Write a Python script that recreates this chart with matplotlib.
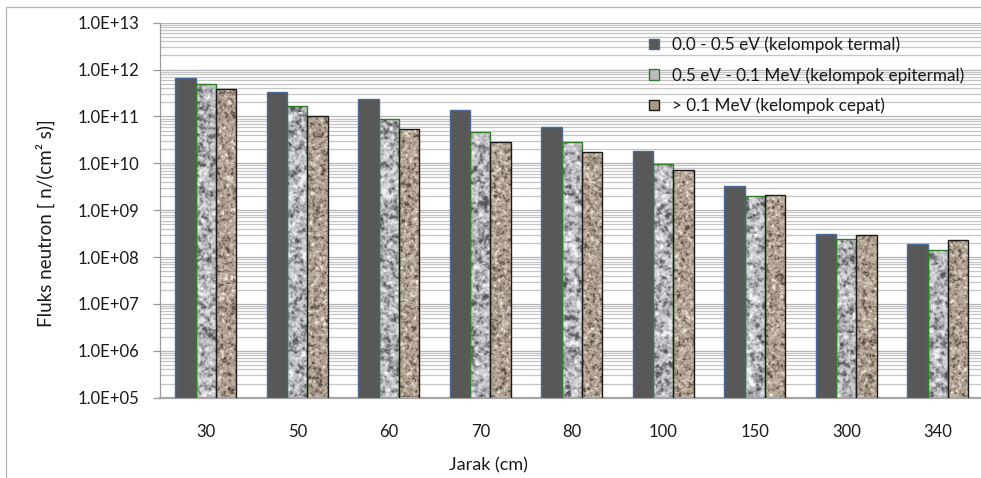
import numpy as np
import matplotlib
matplotlib.use("Agg")
import matplotlib.pyplot as plt
from matplotlib.patches import Rectangle, Patch
from matplotlib.colors import LinearSegmentedColormap
from matplotlib.ticker import LogLocator, FixedLocator, NullFormatter

plt.rcParams['font.family'] = ['Lato', 'DejaVu Sans']

# Distance from source (cm)
jarak = ["30", "50", "60", "70", "80", "100", "150", "300", "340"]

# Neutron flux per energy group [n/(cm^2 s)]
termal = [6.5e11, 3.3e11, 2.36e11, 1.38e11, 5.9e10, 1.81e10, 3.35e9, 3.08e8, 1.88e8]
epitermal = [4.9e11, 1.67e11, 9.0e10, 4.6e10, 2.9e10, 9.7e9, 2.0e9, 2.48e8, 1.40e8]
cepat = [3.9e11, 1.04e11, 5.5e10, 2.8e10, 1.73e10, 7.3e9, 2.09e9, 3.02e8, 2.29e8]

labels = ["0.0 - 0.5 eV (kelompok termal)",
          "0.5 eV - 0.1 MeV (kelompok epitermal)",
          "> 0.1 MeV (kelompok cepat)"]

ytick_vals = [1e5, 1e6, 1e7, 1e8, 1e9, 1e10, 1e11, 1e12, 1e13]
ytick_labels = ["1.0E+05", "1.0E+06", "1.0E+07", "1.0E+08", "1.0E+09",
                "1.0E+10", "1.0E+11", "1.0E+12", "1.0E+13"]

W, H = 981, 478
fig = plt.figure(figsize=(W / 100, H / 100), dpi=100)

# chart-area border
fig.add_artist(Rectangle((6 / W, -0.05), 1.2, 1 - 7 / H + 0.05,
                         transform=fig.transFigure, fill=False,
                         edgecolor='#b4b4b4', linewidth=0.9))

ax_l, ax_r = 160 / W, 983.5 / W
ax_b, ax_t = 1 - 397.7 / H, 1 - 22.7 / H
ax = fig.add_axes([ax_l, ax_b, ax_r - ax_l, ax_t - ax_b])

x = np.arange(len(jarak))
bw = 0.224
ax.set_yscale('log')
ax.set_ylim(1e5, 1e13)
ax.set_xlim(-0.5, len(jarak) - 0.5)

c_dark = '#585858'
b1 = ax.bar(x - bw, termal, bw, color=c_dark, edgecolor='#4b6a98',
            linewidth=1.0, zorder=3)
b2 = ax.bar(x, epitermal, bw, color='#c4c4c8', edgecolor='none',
            linewidth=0, zorder=2)
b3 = ax.bar(x + bw, cepat, bw, color='#b3a393', edgecolor='none',
            linewidth=0, zorder=2)


def smooth(a, s):
    ky = np.fft.fftfreq(a.shape[0])[:, None]
    kx = np.fft.fftfreq(a.shape[1])[None, :]
    g = np.exp(-2 * (np.pi * s) ** 2 * (ky ** 2 + kx ** 2))
    return np.real(np.fft.ifft2(np.fft.fft2(a) * g))


def texture(seed, cmap, shape, s1, s2, w2):
    rng = np.random.default_rng(seed)
    f = smooth(rng.standard_normal(shape), s1) + w2 * smooth(rng.standard_normal(shape), s2)
    lo, hi = np.percentile(f, [1, 99])
    f = np.clip((f - lo) / (hi - lo), 0, 1)
    return cmap(f)


# stone-like fills for the epithermal and fast groups
granite = LinearSegmentedColormap.from_list(
    'granite', ['#56565a', '#7c7c80', '#a8a8ac', '#c6c6ca', '#dadade', '#f4f4f6'])
sand = LinearSegmentedColormap.from_list(
    'sand', ['#5a4c40', '#84756a', '#a69686', '#b8a999', '#c9bcae', '#ece4da'])

shape = (380, 830)
tex_epi = texture(3, granite, shape, 1.7, 0.8, 0.4)
tex_cep = texture(7, sand, shape, 1.2, 0.6, 0.5)

for bars, tex, ec in ((b2, tex_epi, '#2f7d2a'), (b3, tex_cep, '#1c1a18')):
    for rect in bars:
        im = ax.imshow(tex, extent=(0, 1, 0, 1), transform=ax.transAxes,
                       aspect='auto', interpolation='nearest', zorder=2.5)
        im.set_clip_path(rect)
    ax.bar([r.get_x() + r.get_width() / 2 for r in bars], bars.datavalues, bw,
           color='none', edgecolor=ec, linewidth=1.0, zorder=3)

# grid
ax.yaxis.set_major_locator(FixedLocator(ytick_vals))
ax.set_yticklabels(ytick_labels)
ax.yaxis.set_minor_locator(LogLocator(base=10, subs=np.arange(2, 10), numticks=20))
ax.yaxis.set_minor_formatter(NullFormatter())
ax.grid(True, which='major', axis='y', color='#b4b4b4', linewidth=0.9, zorder=0)
ax.grid(True, which='minor', axis='y', color='#c6c6c6', linewidth=0.9, zorder=0)
ax.set_axisbelow(True)
ax.tick_params(axis='y', which='minor', length=0)
ax.tick_params(axis='y', which='major', length=5, width=0.9, color='#9a9a9a',
               labelsize=12, pad=10, labelcolor='#1a1a1a')
ax.set_xticks(x)
ax.set_xticklabels(jarak)
ax.tick_params(axis='x', length=0, labelsize=12, pad=19, labelcolor='#1a1a1a')

for s in ('top', 'right'):
    ax.spines[s].set_visible(False)
ax.spines['left'].set_color('#9a9a9a')
ax.spines['left'].set_linewidth(0.9)
ax.spines['bottom'].set_color('#a6a6a6')
ax.spines['bottom'].set_linewidth(1.6)

fig.text(488 / W, 1 - 465 / H, "Jarak (cm)", ha='center', va='center',
         fontsize=13, color='#1a1a1a')
fig.text(45 / W, 1 - 223 / H, "Fluks neutron [ n/(cm² s)]", ha='center',
         va='center', rotation=90, fontsize=13.5, color='#1a1a1a')

handles = [Patch(facecolor=c_dark, edgecolor='#4b6a98', linewidth=1.0),
           Patch(facecolor='#bcbcc0', edgecolor='#2f7d2a', linewidth=1.0),
           Patch(facecolor='#a89886', edgecolor='#1c1a18', linewidth=1.0)]
leg = ax.legend(handles, labels, loc='upper left',
                bbox_to_anchor=(649 / W, 1 - 36.5 / H), bbox_transform=fig.transFigure,
                frameon=False, fontsize=12.3, handlelength=0.56, handleheight=0.56,
                handletextpad=0.8, labelspacing=0.82, borderpad=0, borderaxespad=0)
for t in leg.get_texts():
    t.set_color('#1a1a1a')

fig.savefig("out.png", dpi=100)
